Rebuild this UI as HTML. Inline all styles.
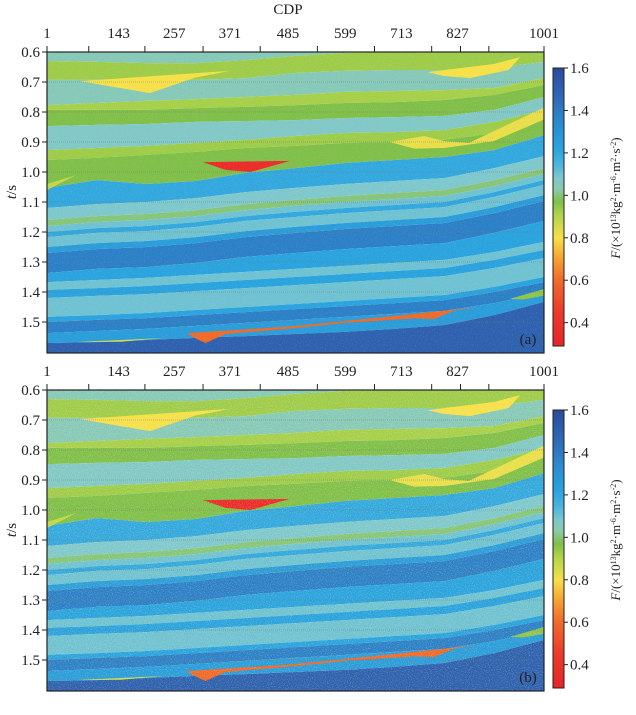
<!DOCTYPE html>
<html><head><meta charset="utf-8">
<style>
body{margin:0;background:#fff;}
svg text{font-family:"Liberation Serif",serif;fill:#222;}
</style></head>
<body>
<svg id="chart" width="636" height="710" viewBox="0 0 636 710" xmlns="http://www.w3.org/2000/svg">
<defs>
<filter id="noiseA" x="0" y="0" width="100%" height="100%">
<feTurbulence type="fractalNoise" baseFrequency="0.9" numOctaves="1" seed="3"/>
<feColorMatrix type="matrix" values="0 0 0 0 1  0 0 0 0 1  0 0 0 0 0.6  1.4 0 0 0 -0.75"/>
</filter>
<filter id="noiseB" x="0" y="0" width="100%" height="100%">
<feTurbulence type="fractalNoise" baseFrequency="0.95" numOctaves="1" seed="7"/>
<feColorMatrix type="matrix" values="0 0 0 0 1  0 0 0 0 1  0 0 0 0 0.6  2 0 0 0 -0.95"/>
</filter>
<linearGradient id="cbGrad" x1="0" y1="1" x2="0" y2="0"></linearGradient>
<clipPath id="clipA"><rect x="47" y="52" width="497" height="301"/></clipPath>
<clipPath id="clipB"><rect x="47" y="390" width="497" height="301"/></clipPath>
</defs>
</svg>
<script>
// ---- data ----
const cdpSamples = [1,101,201,301,401,501,601,701,801,901,1001];
const topTicks = [1,143,257,371,485,599,713,827,1001];
const timeTicks = [0.6,0.7,0.8,0.9,1.0,1.1,1.2,1.3,1.4,1.5];
const cbTicks = [0.4,0.6,0.8,1.0,1.2,1.4,1.6];
const B1=[0.630,0.633,0.637,0.637,0.627,0.613,0.603,0.600,0.600,0.600,0.600];
const B2=[0.693,0.693,0.693,0.693,0.687,0.670,0.663,0.660,0.660,0.653,0.633];
const B3=[0.777,0.770,0.763,0.757,0.750,0.743,0.733,0.730,0.727,0.720,0.687];
const B4=[0.793,0.793,0.793,0.787,0.783,0.777,0.770,0.767,0.760,0.743,0.710];
const B5=[0.847,0.843,0.840,0.833,0.830,0.827,0.820,0.817,0.813,0.793,0.750];
const B6=[0.927,0.920,0.913,0.903,0.893,0.880,0.870,0.867,0.860,0.833,0.793];
const B7=[0.960,0.953,0.943,0.933,0.920,0.913,0.903,0.900,0.893,0.870,0.820];
const B8=[1.053,1.027,1.040,1.030,1.003,0.987,0.970,0.960,0.950,0.927,0.877];
const C1=[1.120,1.107,1.100,1.087,1.067,1.053,1.040,1.030,1.020,0.987,0.947];
const C2=[1.160,1.147,1.140,1.127,1.107,1.093,1.080,1.070,1.060,1.027,0.987];
const C3=[1.180,1.167,1.160,1.147,1.127,1.113,1.100,1.090,1.080,1.047,1.007];
const C4=[1.200,1.187,1.180,1.167,1.147,1.133,1.120,1.110,1.100,1.067,1.027];
const C5=[1.217,1.203,1.197,1.183,1.163,1.150,1.137,1.127,1.117,1.083,1.043];
const C6=[1.250,1.237,1.230,1.217,1.197,1.183,1.170,1.160,1.150,1.117,1.077];
const C7=[1.270,1.257,1.250,1.237,1.217,1.203,1.190,1.180,1.170,1.137,1.097];
const C8=[1.337,1.323,1.317,1.303,1.283,1.270,1.257,1.247,1.237,1.203,1.163];
const C9=[1.367,1.360,1.353,1.343,1.333,1.323,1.313,1.303,1.293,1.267,1.233];
const C10=[1.393,1.387,1.380,1.370,1.360,1.350,1.340,1.330,1.320,1.293,1.260];
const C11=[1.420,1.413,1.407,1.397,1.387,1.377,1.367,1.357,1.347,1.320,1.287];
const C12=[1.483,1.477,1.470,1.460,1.450,1.440,1.430,1.420,1.410,1.383,1.350];
const C13=[1.500,1.493,1.487,1.477,1.467,1.457,1.447,1.437,1.427,1.400,1.367];
const C14=[1.537,1.530,1.523,1.513,1.503,1.493,1.483,1.473,1.463,1.437,1.403];
const C15=[1.570,1.567,1.560,1.553,1.547,1.540,1.533,1.523,1.510,1.477,1.433];
const boundaries=[B1,B2,B3,B4,B5,B6,B7,B8,C1,C2,C3,C4,C5,C6,C7,C8,C9,C10,C11,C12,C13,C14,C15];
const layerValues=[1.05,0.93,1.05,0.92,0.97,1.07,0.93,0.97,1.2,1.08,1.0,1.1,1.2,1.1,1.25,1.38,1.22,1.1,1.22,1.1,1.22,1.38,1.25,1.5];
const lensYellowLeftCdp=[67,369,300,208,120];
const lensYellowLeftT=[0.697,0.663,0.685,0.737,0.712];
const lensYellowRightCdp=[766,900,953,930,852,800];
const lensYellowRightT=[0.667,0.640,0.617,0.660,0.687,0.680];
const lensYellowMidCdp=[690,760,800,850,1001,1001,900,800,740];
const lensYellowMidT=[0.900,0.880,0.897,0.903,0.785,0.825,0.897,0.920,0.922];
const lensRedCdp=[315,490,410,360];
const lensRedT=[0.967,0.963,1.000,0.993];
const wedgeLeftCdp=[1,60,1];
const wedgeLeftT=[1.040,1.010,1.060];
const streakOrangeCdp=[282,489,700,871,820,780,740,600,489,360,320,300];
const streakOrangeT=[1.537,1.515,1.480,1.450,1.462,1.490,1.488,1.503,1.522,1.540,1.570,1.555];
const streakYellowCdp=[57,150,238,150];
const streakYellowT=[1.567,1.560,1.553,1.566];
const streakGreenCdp=[932,1001,1001,960];
const streakGreenT=[1.423,1.390,1.412,1.425];
const lensValues=[0.8,0.8,0.82,0.35,0.88,0.6,0.85,0.95];

// ---- colormap ----
const cmStops=[[0.29,[232,35,42]],[0.45,[236,58,42]],[0.6,[240,106,42]],[0.7,[245,160,50]],[0.8,[246,224,74]],[0.9,[181,213,74]],[0.97,[128,191,74]],[1.03,[140,202,170]],[1.08,[126,200,205]],[1.15,[72,179,222]],[1.22,[42,163,222]],[1.35,[43,137,206]],[1.45,[47,108,184]],[1.6,[43,74,156]]];
function cmap(v){
  if(v<=cmStops[0][0]) return 'rgb('+cmStops[0][1]+')';
  for(let i=1;i<cmStops.length;i++){
    if(v<=cmStops[i][0]){const a=cmStops[i-1],b=cmStops[i];const f=(v-a[0])/(b[0]-a[0]);
      const c=a[1].map((x,k)=>Math.round(x+(b[1][k]-x)*f));return 'rgb('+c.join(',')+')';}
  }
  return 'rgb('+cmStops[cmStops.length-1][1]+')';
}
const NS='http://www.w3.org/2000/svg';
const svg=document.getElementById('chart');
function el(tag,attrs,parent){const e=document.createElementNS(NS,tag);for(const k in attrs)e.setAttribute(k,attrs[k]);(parent||svg).appendChild(e);return e;}
const X0=47,X1=544,PH=301;
function xScale(c){return X0+(c-1)/1000*(X1-X0);}
function yScaleFor(top){return t=>top+(t-0.6)*300;}

function drawPanel(top,label,clip,noise,noiseOp,cbTop){
  const y=yScaleFor(top);
  const g=el('g',{'clip-path':'url(#'+clip+')'});
  
  
  for(let i=0;i<layerValues.length;i++){
    const upper=i===0?null:boundaries[i-1];
    const lower=i<boundaries.length?boundaries[i]:null;
    let pts=[];
    cdpSamples.forEach((c,k)=>pts.push(xScale(c)+','+(upper?y(upper[k]):top-2)));
    for(let k=cdpSamples.length-1;k>=0;k--)pts.push(xScale(cdpSamples[k])+','+(lower?y(lower[k]):top+PH+2));
    const p=el('polygon',{points:pts.join(' '),fill:cmap(layerValues[i])},g);
    
    
  }
  const lenses=[[lensYellowLeftCdp,lensYellowLeftT,'lens-yellow-left'],[lensYellowRightCdp,lensYellowRightT,'lens-yellow-right'],[lensYellowMidCdp,lensYellowMidT,'lens-yellow-mid'],[lensRedCdp,lensRedT,'lens-red'],[wedgeLeftCdp,wedgeLeftT,'wedge-left'],[streakOrangeCdp,streakOrangeT,'streak-orange'],[streakYellowCdp,streakYellowT,'streak-yellow'],[streakGreenCdp,streakGreenT,'streak-green']];
  lenses.forEach((L,i)=>{
    const pts=L[0].map((c,k)=>xScale(c)+','+y(L[1][k])).join(' ');
    const p=el('polygon',{points:pts,fill:cmap(lensValues[i])},g);
    
    
  });
  const nr=el('rect',{x:X0,y:top,width:X1-X0,height:PH,filter:'url(#'+noise+')',opacity:noiseOp},g);
  
  
  timeTicks.forEach(t=>{
    const l=el('line',{x1:X0,x2:X1,y1:y(t),y2:y(t),stroke:'#777','stroke-width':0.7,'stroke-dasharray':'1 1',opacity:0.55},g);
    
    
  });
  const fr=el('rect',{x:X0,y:top,width:X1-X0,height:PH,fill:'none',stroke:'#222','stroke-width':1.2});
  
  
  timeTicks.forEach(t=>{
    el('line',{x1:X0-5,x2:X0,y1:y(t),y2:y(t),stroke:'#222','stroke-width':1});
    const tx=el('text',{x:X0-7,y:y(t)+5,'font-size':15,'text-anchor':'end'});
    tx.textContent=t.toFixed(1);
    
    
  });
  const tickXs=[1,85,198,315,430,545,660,775,833,890,1001];
  tickXs.forEach(c=>el('line',{x1:xScale(c),x2:xScale(c),y1:top-6,y2:top,stroke:'#222','stroke-width':1}));
  const labelPos=[1,145,257,369,486,601,714,827,1001];
  topTicks.forEach((c,i)=>{
    const tx=el('text',{x:xScale(labelPos[i]),y:top-14,'font-size':15,'text-anchor':'middle'});
    tx.textContent=c;
    
    
  });
  const yt=el('text',{x:0,y:0,'font-size':15,'text-anchor':'middle',transform:'translate(16,'+(top+140)+') rotate(-90)'});
  yt.innerHTML='<tspan font-style="italic">t</tspan>/s';
  
  
  const pl=el('text',{x:528,y:top+PH-9,'font-size':15,'text-anchor':'middle'});
  pl.textContent='('+label+')';
  
  
  const cbH=278, cbX=553, cbW=11;
  const cy=v=>cbTop+(1.6-v)/(1.6-0.29)*cbH;
  const cbr=el('rect',{x:cbX,y:cbTop,width:cbW,height:cbH,fill:'url(#cbGrad)',stroke:'#222','stroke-width':1});
  
  
  cbTicks.forEach(v=>{
    el('line',{x1:cbX+cbW,x2:cbX+cbW+4,y1:cy(v),y2:cy(v),stroke:'#222','stroke-width':1});
    const tx=el('text',{x:cbX+cbW+6,y:cy(v)+5,'font-size':15});
    tx.textContent=v.toFixed(1);
    
    
  });
  const ct=el('text',{x:0,y:0,'font-size':13,'text-anchor':'middle',transform:'translate(620,'+(cbTop+130)+') rotate(-90)'});
  ct.innerHTML='<tspan font-style="italic">F</tspan>/(×10<tspan baseline-shift="super" font-size="8">13</tspan>kg<tspan baseline-shift="super" font-size="8">2</tspan>·m<tspan baseline-shift="super" font-size="8">-6</tspan>·m<tspan baseline-shift="super" font-size="8">2</tspan>·s<tspan baseline-shift="super" font-size="8">-2</tspan>)';
  
  
}
const grad=document.getElementById('cbGrad');
cmStops.forEach(s=>{const st=document.createElementNS(NS,'stop');st.setAttribute('offset',((s[0]-0.29)/(1.6-0.29)).toFixed(3));st.setAttribute('stop-color',cmap(s[0]));grad.appendChild(st);});
drawPanel(52,'a','clipA','noiseA',0.35,68);
drawPanel(390,'b','clipB','noiseB',0.45,410);
const cdpT=el('text',{x:288,y:14,'font-size':15,'text-anchor':'middle'});
cdpT.textContent='CDP';


</script>
</body></html>
